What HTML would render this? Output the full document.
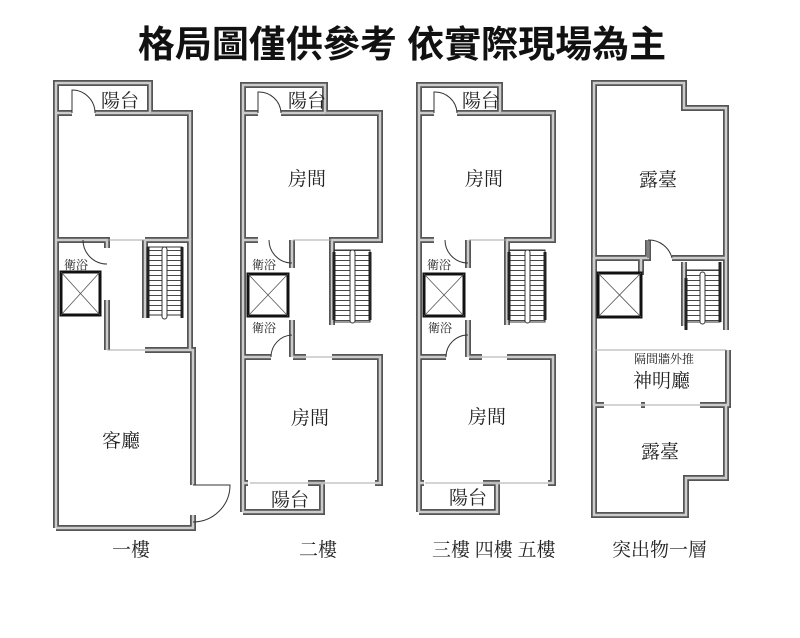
<!DOCTYPE html>
<html><head><meta charset="utf-8"><style>
html,body{margin:0;padding:0;background:#fff;}
svg{display:block;}
text{font-family:"Liberation Serif","Noto Serif CJK SC",serif;fill:#222;}
</style></head><body>
<svg width="800" height="638" viewBox="0 0 800 638" xmlns="http://www.w3.org/2000/svg">
<defs>
<pattern id="st" width="6" height="5" patternUnits="userSpaceOnUse"><line x1="0" y1="0.5" x2="6" y2="0.5" stroke="#333" stroke-width="0.9"/></pattern>
<g id="w1" fill="none">
 <path d="M56,528 V83 H150 V113"/>
 <path d="M56,113 H72 M95,113 H190 V240"/>
 <path d="M56,240 H107 V248 M145,240 H190 V350"/>
 <path d="M107,300 V350 M145,350 H193 V485 M193,515 V528 H56"/>
 <path d="M145,240 V318"/>
</g>
<g id="w2" fill="none">
 <path d="M243,512 V85 H325 V113"/>
 <path d="M243,113 H258 M281,113 H380 V240 H332 V325 M243,240 H258"/>
 <path d="M292,240 V268 M292,320 V357"/>
 <path d="M243,357 H271 M293,357 H306 M332,357 H380 V483 H375 M322,483 V512 H243 M243,483 H248 M308,483 H325"/>
</g>
<g id="w3" fill="none">
 <path d="M419,512 V85 H500 V113"/>
 <path d="M419,113 H434 M457,113 H553 V240 H507 V325 M419,240 H434"/>
 <path d="M468,240 V268 M468,320 V357"/>
 <path d="M419,357 H446 M469,357 H482 M507,357 H553 V483 H548 M497,483 V512 H419 M419,483 H424 M483,483 H500"/>
</g>
<g id="w4" fill="none">
 <path d="M594,405 V83 H684 V108 H726 V258 M594,258 H648 V240 M672,258 H726 V330"/>
 <path d="M594,258 V405 M641,258 V275"/>
 <path d="M728,350 V405 H700 M594,405 H604 M641,405 H645 M594,405 V515 H686 V478 H726 V405"/>
 <path d="M684,262 V326"/>
</g>
</defs>
<rect width="800" height="638" fill="#fff"/>
<text x="402" y="57" font-size="37" font-weight="bold" text-anchor="middle" style="fill:#111;font-family:'Liberation Sans','Noto Sans CJK TC',sans-serif">格局圖僅供參考 依實際現場為主</text>

<use href="#w1" stroke="#555" stroke-width="6"/><use href="#w1" stroke="#ccc" stroke-width="2.5"/>
<use href="#w2" stroke="#555" stroke-width="6"/><use href="#w2" stroke="#ccc" stroke-width="2.5"/>
<use href="#w3" stroke="#555" stroke-width="6"/><use href="#w3" stroke="#ccc" stroke-width="2.5"/>
<use href="#w4" stroke="#555" stroke-width="6"/><use href="#w4" stroke="#ccc" stroke-width="2.5"/>

<g fill="none" stroke="#333" stroke-width="1">
 <path d="M72,113 V90 A23,23 0 0 1 95,113"/>
 <path d="M258,113 V92 A22,22 0 0 1 281,113"/>
 <path d="M434,113 V92 A22,22 0 0 1 457,113"/>
 <path d="M648,240 A24,24 0 0 1 672,258 H672 M648,240 V258"/>
 <path d="M83,240 A24,24 0 0 0 107,264"/>
 <path d="M269,240 A23,23 0 0 0 292,263"/>
 <path d="M445,240 A23,23 0 0 0 468,263"/>
 <path d="M271,357 A22,22 0 0 1 292,335"/>
 <path d="M446,357 A22,22 0 0 1 468,335"/>
 <path d="M193,485 H230 A37,37 0 0 1 193,522"/>
 <path stroke="#aaa" d="M107,240 H145 M107,350 H145 M190,113 H150 M293,240 H332 M293,357 H332 M469,240 H507 M469,357 H507 M595,350 H726 M380,113 H325 M553,113 H500 M250,483 H375 M425,483 H548 M604,405 H700"/>
</g>

<g fill="#fff" stroke="#111" stroke-width="3">
 <rect x="61" y="272" width="39" height="43"/>
 <rect x="248" y="274" width="40" height="42"/>
 <rect x="424" y="274" width="40" height="42"/>
 <rect x="598" y="273" width="43" height="44"/>
</g>
<g stroke="#555" stroke-width="0.8">
 <path d="M61,272 L100,315 M100,272 L61,315"/>
 <path d="M248,274 L288,316 M288,274 L248,316"/>
 <path d="M424,274 L464,316 M464,274 L424,316"/>
 <path d="M598,273 L641,317 M641,273 L598,317"/>
</g>

<g stroke="#333" stroke-width="1">
 <rect x="148" y="247" width="34" height="68" fill="url(#st)"/>
 <rect x="334" y="250" width="36" height="72" fill="url(#st)"/>
 <rect x="509" y="250" width="36" height="72" fill="url(#st)"/>
 <rect x="686" y="270" width="34" height="52" fill="url(#st)"/>
</g>
<g fill="#fff" stroke="#333" stroke-width="1">
 <rect x="162" y="247" width="5" height="72" rx="2.5"/>
 <rect x="350" y="250" width="5" height="73" rx="2.5"/>
 <rect x="525" y="250" width="5" height="73" rx="2.5"/>
 <rect x="700" y="272" width="5" height="52" rx="2.5"/>
</g>
<g stroke="#222" stroke-width="3">
 <path d="M148,247 V318 M182,247 V318"/>
 <path d="M334,252 V320 M370,252 V320"/>
 <path d="M509,252 V320 M545,252 V320"/>
 <path d="M686,278 V330 M720,262 V322"/>
</g>

<g font-size="19">
 <text x="101" y="107">陽台</text>
 <text x="288" y="107">陽台</text>
 <text x="462" y="107">陽台</text>
 <text x="288" y="185">房間</text>
 <text x="465" y="185">房間</text>
 <text x="639" y="186">露臺</text>
 <text x="102" y="447">客廳</text>
 <text x="291" y="424">房間</text>
 <text x="468" y="423">房間</text>
 <text x="271" y="506">陽台</text>
 <text x="449" y="504">陽台</text>
 <text x="633" y="387">神明廳</text>
 <text x="641" y="458">露臺</text>
 <text x="112" y="556">一樓</text>
 <text x="299" y="556">二樓</text>
 <text x="432" y="556">三樓 四樓 五樓</text>
 <text x="612" y="556">突出物一層</text>
</g>
<g font-size="12">
 <text x="64" y="269">衛浴</text>
 <text x="252" y="269">衛浴</text>
 <text x="427" y="269">衛浴</text>
 <text x="252" y="332">衛浴</text>
 <text x="428" y="332">衛浴</text>
 <text x="634" y="363">隔間牆外推</text>
</g>
</svg>
</body></html>
